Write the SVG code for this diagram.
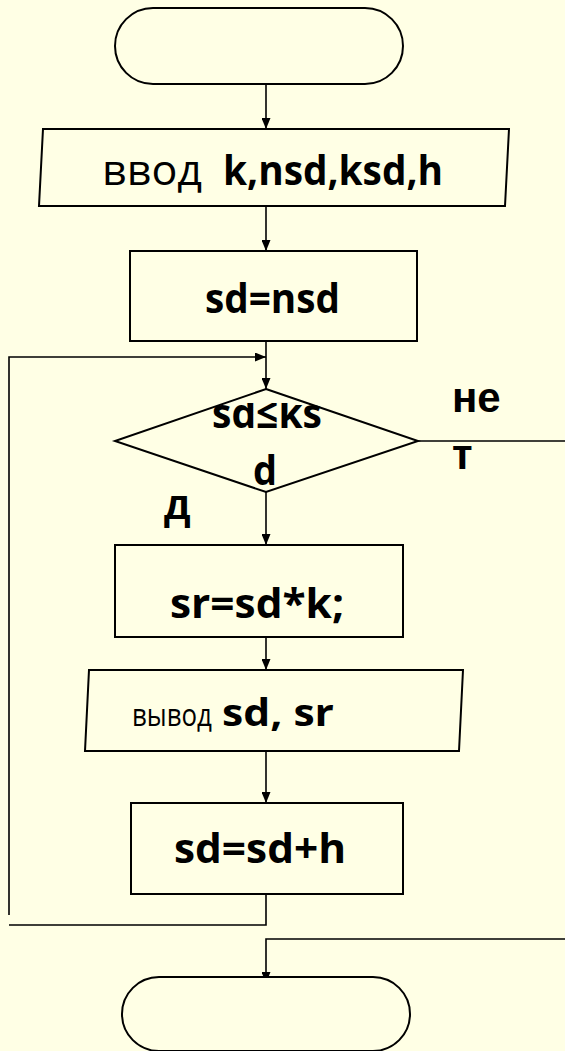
<svg xmlns="http://www.w3.org/2000/svg" width="565" height="1051" viewBox="0 0 565 1051">
<style>
.shape{fill:#FFFFE5;stroke:#000;stroke-width:2}
.conn{fill:none;stroke:#000;stroke-width:1.6}
.t{font-family:"Open Sans","Liberation Sans",sans-serif;font-size:42px;fill:#000}
.b{font-weight:bold}
.a{font-family:"Liberation Sans",Arial,sans-serif;font-weight:bold;font-size:42px;fill:#000}
</style>
<defs>
<marker id="ah" markerUnits="userSpaceOnUse" markerWidth="11" markerHeight="9" refX="11" refY="4.5" orient="auto">
<path d="M0,0 L11,4.5 L0,9 z" fill="#000"/>
</marker>
<clipPath id="clipTop"><rect x="150" y="403" width="250" height="100"/></clipPath>
</defs>
<rect width="565" height="1051" fill="#FFFFE5"/>
<g id="connectors">
<path class="conn" d="M266 84 V129" marker-end="url(#ah)"/>
<path class="conn" d="M266 206 V251" marker-end="url(#ah)"/>
<path class="conn" d="M266 341 V389" marker-end="url(#ah)"/>
<path class="conn" d="M9 915 V357 H266" marker-end="url(#ah)"/>
<path class="conn" d="M266 492 V545" marker-end="url(#ah)"/>
<path class="conn" d="M266 637 V670" marker-end="url(#ah)"/>
<path class="conn" d="M266 751 V803" marker-end="url(#ah)"/>
<path class="conn" d="M266 894 V925 H9"/>
<path class="conn" d="M418 441 H565"/>
<path class="conn" d="M565 939 H266 V983" marker-end="url(#ah)"/>
<text class="a" x="452" y="412">не</text>
<text class="a" x="452" y="469">т</text>
<text class="a" x="164" y="519">д</text>
</g>
<g id="start">
<rect class="shape" x="115" y="8" width="288" height="76" rx="38" ry="38"/>
</g>
<g id="input">
<polygon class="shape" points="43,129 509,129 505,206 39,206"/>
<text class="t" x="102" y="185" textLength="100" lengthAdjust="spacingAndGlyphs">ввод</text>
<text class="t b" x="223" y="185" textLength="220" lengthAdjust="spacingAndGlyphs">k,nsd,ksd,h</text>
</g>
<g id="init">
<rect class="shape" x="130" y="251" width="287" height="90"/>
<text class="t b" x="205" y="313" textLength="135" lengthAdjust="spacingAndGlyphs">sd=nsd</text>
</g>
<g id="cond">
<polygon class="shape" points="266,389 418,441 266,492 115,441"/>
<text class="t b" x="212" y="428" font-size="40" textLength="110" lengthAdjust="spacingAndGlyphs" clip-path="url(#clipTop)">sd≤ks</text>
<text class="t b" x="253" y="485" textLength="24" lengthAdjust="spacingAndGlyphs">d</text>
</g>
<g id="calc">
<rect class="shape" x="115" y="545" width="288" height="92"/>
<text class="t b" x="170" y="618" textLength="174" lengthAdjust="spacingAndGlyphs">sr=sd*k;</text>
</g>
<g id="output">
<polygon class="shape" points="89,670 463,670 459,751 85,751"/>
<text class="t" y="726"><tspan x="132" font-size="31" textLength="80" lengthAdjust="spacingAndGlyphs">вывод</tspan><tspan x="222" font-weight="bold" font-size="38" textLength="112" lengthAdjust="spacingAndGlyphs">sd, sr</tspan></text>
</g>
<g id="step">
<rect class="shape" x="131" y="803" width="272" height="91"/>
<text class="t b" x="174" y="863" textLength="172" lengthAdjust="spacingAndGlyphs">sd=sd+h</text>
</g>
<g id="end">
<rect class="shape" x="122" y="977" width="288" height="74" rx="37" ry="37"/>
</g>
</svg>
